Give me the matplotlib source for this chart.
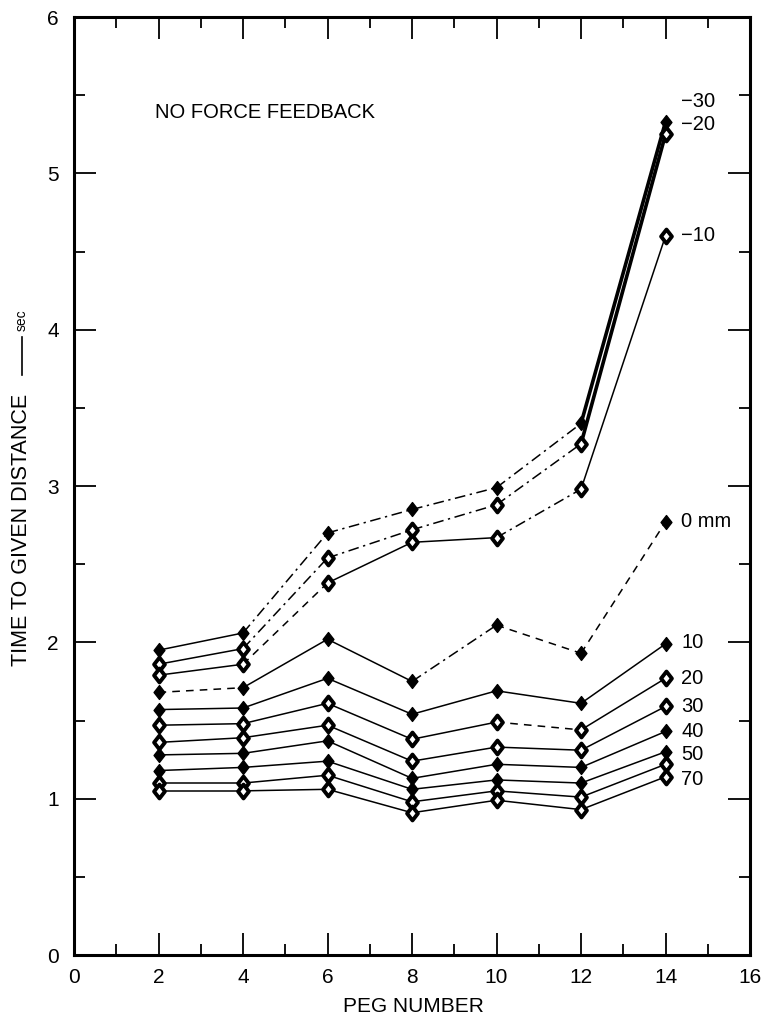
import matplotlib
matplotlib.use("Agg")
import matplotlib.pyplot as plt
from matplotlib.path import Path
from matplotlib.lines import Line2D
from matplotlib.ticker import MultipleLocator

plt.rcParams["font.family"] = ["Liberation Sans", "DejaVu Sans"]

# time to reach a given distance (sec) at each peg, one list per offset (mm)
pegs = [2, 4, 6, 8, 10, 12, 14]
offsets = ["\u221230", "\u221220", "\u221210", "0 mm", "10", "20", "30", "40", "50", "60", "70"]
t_m30 = [1.95, 2.06, 2.70, 2.85, 2.99, 3.40, 5.33]
t_m20 = [1.86, 1.96, 2.54, 2.72, 2.88, 3.27, 5.25]
t_m10 = [1.79, 1.86, 2.38, 2.64, 2.67, 2.98, 4.60]
t_0 = [1.68, 1.71, 2.02, 1.75, 2.11, 1.93, 2.77]
t_10 = [1.57, 1.58, 1.77, 1.54, 1.69, 1.61, 1.99]
t_20 = [1.47, 1.48, 1.61, 1.38, 1.49, 1.44, 1.77]
t_30 = [1.36, 1.39, 1.47, 1.24, 1.33, 1.31, 1.59]
t_40 = [1.28, 1.29, 1.37, 1.13, 1.22, 1.20, 1.43]
t_50 = [1.18, 1.20, 1.24, 1.06, 1.12, 1.10, 1.30]
t_60 = [1.10, 1.10, 1.15, 0.98, 1.05, 1.01, 1.22]
t_70 = [1.05, 1.05, 1.06, 0.91, 0.99, 0.93, 1.14]
times = [t_m30, t_m20, t_m10, t_0, t_10, t_20, t_30, t_40, t_50, t_60, t_70]

# drawing style for each segment between neighbouring pegs
SEG = {
    "s": dict(linestyle="-", linewidth=1.1),
    "d": dict(linestyle=(0, (7, 3, 1.5, 3)), linewidth=1.1),
    "k": dict(linestyle=(0, (5, 4)), linewidth=1.1),
    "S": dict(linestyle="-", linewidth=2.6),
}
seg_styles = ["sddddS", "sddddS", "skssds", "kssdkk",
              "ssssss", "ssssks", "ssssss",
              "ssssss", "ssssss", "ssssss", "ssssss"]
hollow = [False, True, True, False, False, True, True, False, False, True, True]
# where the right-hand labels sit (label for 60 is not printed)
label_y = {"\u221230": 5.46, "\u221220": 5.31, "\u221210": 4.60, "0 mm": 2.77,
           "10": 2.00, "20": 1.77, "30": 1.59, "40": 1.43, "50": 1.28, "70": 1.12}

DIAMOND = Path([(0, 1), (0.78, 0), (0, -1), (-0.78, 0), (0, 1)],
               [Path.MOVETO, Path.LINETO, Path.LINETO, Path.LINETO, Path.CLOSEPOLY])

fig = plt.figure(figsize=(7.68, 10.27), dpi=100)
ax = fig.add_axes([0.0964, 0.0701, 0.8802, 0.9133])

for name, vals, styles, open_mk in zip(offsets, times, seg_styles, hollow):
    for i in range(len(pegs) - 1):
        ax.plot(pegs[i:i + 2], vals[i:i + 2], color="black",
                solid_capstyle="butt", **SEG[styles[i]])
    ax.plot(pegs, vals, linestyle="none", marker=DIAMOND, markersize=10,
            markerfacecolor="white" if open_mk else "black",
            markeredgecolor="black", markeredgewidth=2.8 if open_mk else 1.0,
            zorder=3)
    if name in label_y:
        ax.text(14.37, label_y[name], name, fontsize=14.5,
                ha="left", va="center")

ax.text(1.92, 5.39, "NO FORCE FEEDBACK", fontsize=14.5, ha="left", va="center")

ax.set_xlim(0, 16)
ax.set_ylim(0, 6)
ax.xaxis.set_major_locator(MultipleLocator(2))
ax.xaxis.set_minor_locator(MultipleLocator(1))
ax.yaxis.set_major_locator(MultipleLocator(1))
ax.yaxis.set_minor_locator(MultipleLocator(0.5))
ax.tick_params(which="both", direction="in", top=True, right=True,
               labelsize=15, width=1.3)
ax.tick_params(which="major", length=16)
ax.tick_params(which="minor", length=8)
ax.tick_params(axis="x", pad=9)
ax.tick_params(axis="y", pad=11)
for sp in ax.spines.values():
    sp.set_linewidth(2.2)

fig.text(0.538, 0.0195, "PEG NUMBER", fontsize=15, ha="center", va="center")
fig.text(0.028, 0.4844, "TIME TO GIVEN DISTANCE", fontsize=15.5, rotation=90,
         ha="center", va="center")
fig.add_artist(Line2D([0.028, 0.028], [1 - 375 / 1027, 1 - 337 / 1027],
                      color="black", linewidth=1.2))
fig.text(0.028, 1 - 320 / 1027, "sec", fontsize=10, rotation=90,
         ha="center", va="center")

fig.savefig("out.png", dpi=100)
